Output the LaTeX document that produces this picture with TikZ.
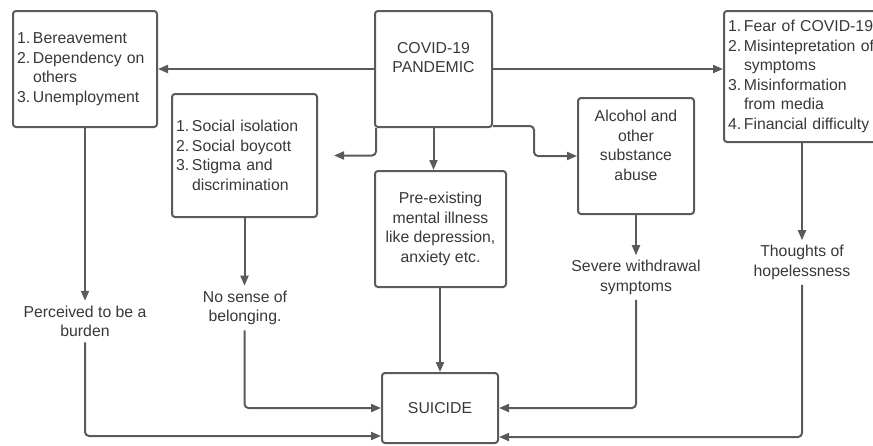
\documentclass[tikz,border=0pt]{standalone}
\usepackage{fontspec}
\setmainfont{Liberation Sans}
\usetikzlibrary{arrows.meta,calc}
\definecolor{linecol}{HTML}{5A5A5A}
\definecolor{txtcol}{HTML}{383838}
\newcommand{\itm}[2]{\makebox[16pt][l]{#1}#2}
\newcommand{\cnt}[1]{\hspace*{16pt}#1}
\begin{document}
\begin{tikzpicture}[x=1pt,y=-1pt,
  every node/.style={text=txtcol,font=\fontsize{15.8}{19.5}\selectfont},
  box/.style={draw=linecol,line width=2pt,rounded corners=3pt,inner sep=0pt},
  listbox/.style={box,align=left,inner xsep=4pt},
  cbox/.style={box,align=center},
  lbl/.style={align=center,inner sep=5pt},
  arr/.style={draw=linecol,line width=2pt,rounded corners=4pt,
    -{Triangle[length=10pt,width=8pt]}}]
\useasboundingbox (0,0) rectangle (873,445);
% boxes
\node[listbox,text width=136pt,minimum height=116pt] (A) at (85,69)
  {\itm{1.}{Bereavement}\\\itm{2.}{Dependency on}\\\cnt{others}\\\itm{3.}{Unemployment}};
\node[cbox,minimum width=117pt,minimum height=116pt] (C) at (433.5,69)
  {COVID-19\\PANDEMIC\\[4pt]};
\node[listbox,text width=137pt,minimum height=123pt] (B) at (244.5,155.5)
  {\itm{1.}{Social isolation}\\\itm{2.}{Social boycott}\\\itm{3.}{Stigma and}\\\cnt{discrimination}\\[4pt]};
\node[cbox,minimum width=131pt,minimum height=116pt] (P) at (440.5,229)
  {Pre-existing\\mental illness\\like depression,\\anxiety etc.};
\node[cbox,minimum width=116pt,minimum height=116pt] (Al) at (636,156)
  {Alcohol and\\other\\substance\\abuse\\[2pt]};
\node[listbox,text width=149pt,minimum height=131pt,anchor=west] (R) at (723,76.5)
  {\itm{1.}{Fear of COVID-19}\\\itm{2.}{Misintepretation of}\\\cnt{symptoms}\\\itm{3.}{Misinformation}\\\cnt{from media}\\\itm{4.}{Financial difficulty}\\[2pt]};
\node[cbox,minimum width=116pt,minimum height=70pt] (S) at (440,408) {SUICIDE};
% labels
\node[lbl] (lA) at (85,321.5) {Perceived to be a\\burden};
\node[lbl] (lB) at (245,308) {No sense of\\belonging.};
\node[lbl] (lC) at (636,277.5) {Severe withdrawal\\symptoms};
\node[lbl] (lD) at (802,262.5) {Thoughts of\\hopelessness};
% connectors from pandemic
\draw[arr] (C.west) -- (A.east |- C.west);
\draw[arr] (C.east) -- (C.east -| R.west);
\draw[arr] ($(C.south west)+(2,0)$) |- (B.east) [shorten >=16pt];
\draw[arr] ($(C.south east)+(0,-2)$) -- ++(41,0) |- (Al.west);
\draw[arr] (C.south) -- (C.south |- P.north);
% boxes to labels
\draw[arr] (A.south) -- (lA.north);
\draw[arr] (B.south) -- (B.south |- lB.north);
\draw[arr] (Al.south) -- (lC.north);
\draw[arr] (lD.north |- R.south) -- (lD.north);
% to suicide
\draw[arr] (lA.south) |- ($(S.west)+(0,28)$);
\draw[arr] (lB.south -| B.south) |- (S.west);
\draw[arr] (P.south -| S.north) -- (S.north);
\draw[arr] (lC.south) |- (S.east);
\draw[arr] (lD.south) |- ($(S.east)+(0,29)$);
\end{tikzpicture}
\end{document}
